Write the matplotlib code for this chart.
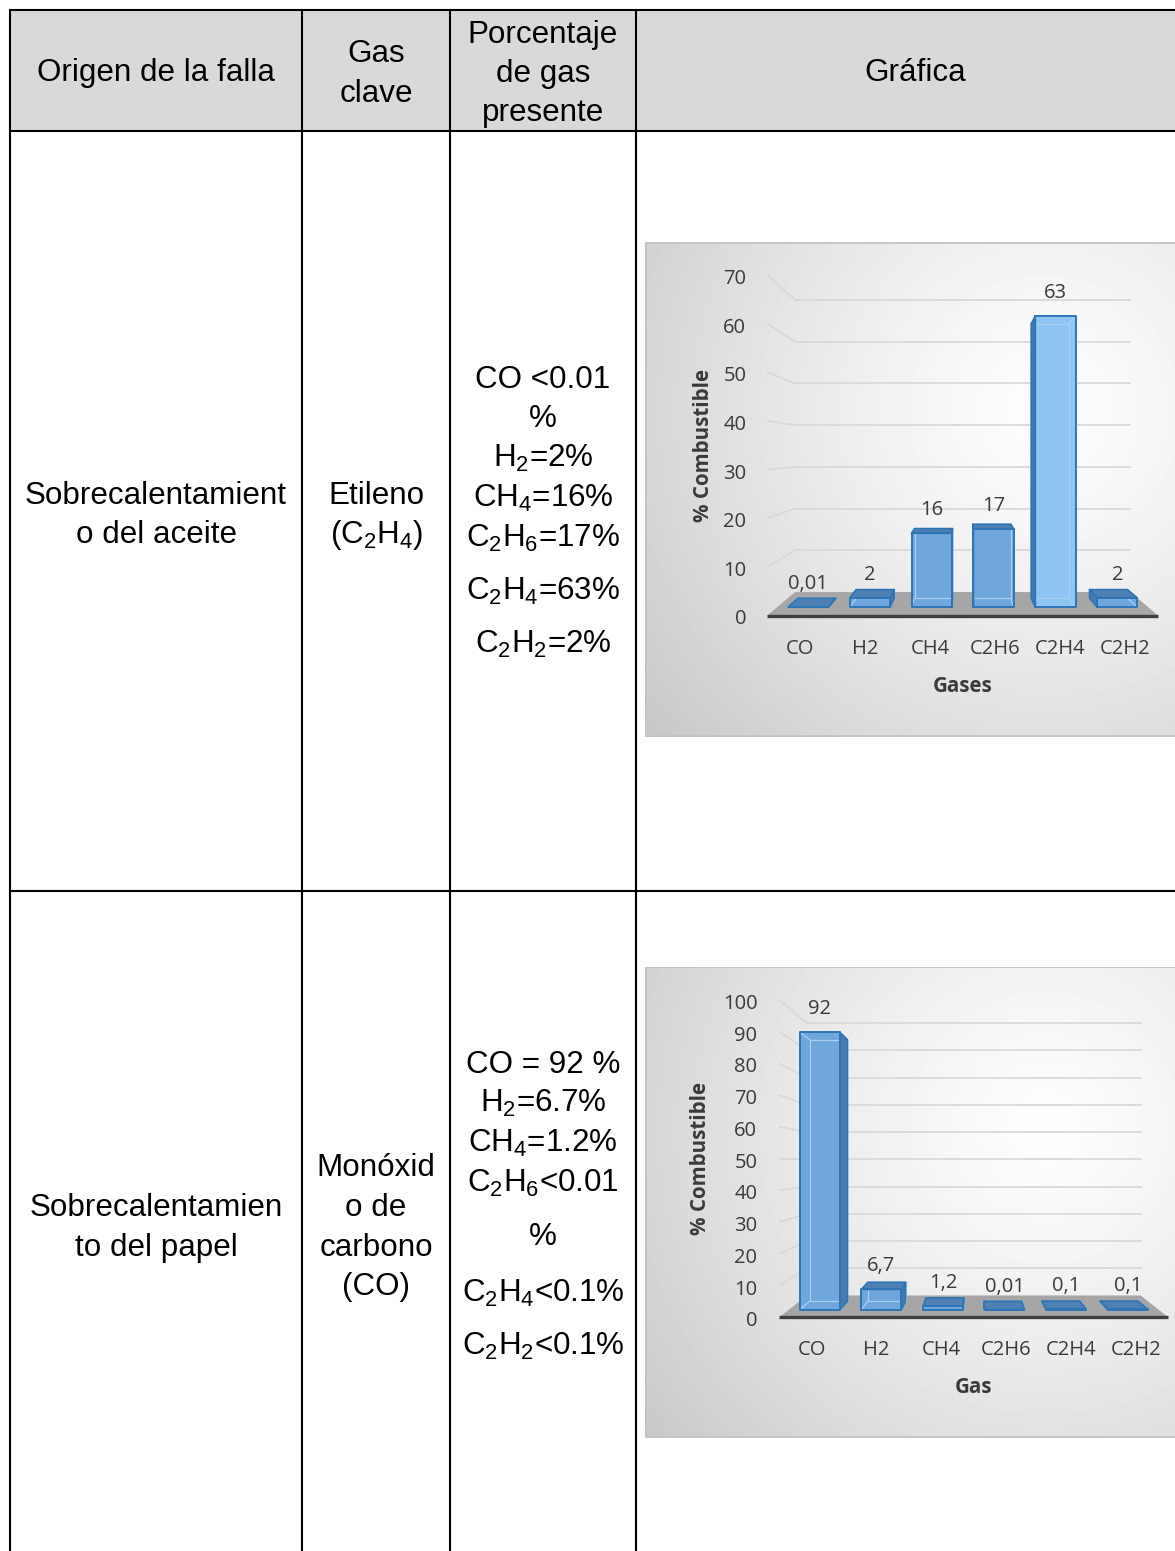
import numpy as np
import matplotlib.pyplot as plt
from matplotlib.patches import Polygon, Rectangle

W, H = 1175, 1551

# ---- data -------------------------------------------------------------
gases = ["CO", "H2", "CH4", "C2H6", "C2H4", "C2H2"]

aceite_pct = [0.01, 2, 16, 17, 63, 2]
aceite_txt = ["0,01", "2", "16", "17", "63", "2"]
aceite_ticks = [0, 10, 20, 30, 40, 50, 60, 70]

papel_pct = [92, 6.7, 1.2, 0.01, 0.1, 0.1]
papel_txt = ["92", "6,7", "1,2", "0,01", "0,1", "0,1"]
papel_ticks = [0, 10, 20, 30, 40, 50, 60, 70, 80, 90, 100]

headers = [["Origen de la falla"], ["Gas", "clave"],
           ["Porcentaje", "de gas", "presente"], ["Gráfica"]]
fila1_origen = ["Sobrecalentamient", "o del aceite"]
fila1_gas = ["Etileno", "(C$_2$H$_4$)"]
fila1_pct = ["CO <0.01", "%", "H$_2$=2%", "CH$_4$=16%", "C$_2$H$_6$=17%",
             "C$_2$H$_4$=63%", "C$_2$H$_2$=2%"]
fila2_origen = ["Sobrecalentamien", "to del papel"]
fila2_gas = ["Monóxid", "o de", "carbono", "(CO)"]
fila2_pct = ["CO = 92 %", "H$_2$=6.7%", "CH$_4$=1.2%", "C$_2$H$_6$<0.01", "%",
             "C$_2$H$_4$<0.1%", "C$_2$H$_2$<0.1%"]

# ---- style ------------------------------------------------------------
plt.rcParams["mathtext.fontset"] = "custom"
plt.rcParams["mathtext.rm"] = "Liberation Sans"
plt.rcParams["mathtext.it"] = "Liberation Sans:italic"
plt.rcParams["mathtext.bf"] = "Liberation Sans:bold"

TABLE_FONT = ["Liberation Sans", "DejaVu Sans"]
CHART_FONT = ["Open Sans", "DejaVu Sans"]
TXT = "#3a3a3a"
FS_TICK = 14.5
FS_TITLE = 14.8
FRONT = "#6fa6dc"
FRONT_HI = "#8ec5f3"
SIDE = "#4a7aab"
TOP = "#4f80b3"
EDGE = "#2e75b6"
HIDDEN = "#a9cff2"
GRID = "#d9d9d9"

F_BACK = 0.142      # depth of the floor / walls
F1, F2 = 0.05, 0.104  # bar depth range
BAR_W = 0.65
VP_FRAC = 0.485


def px_axes(fig, x0, y0, x1, y1, z):
    ax = fig.add_axes([x0 / W, 1 - y1 / H, (x1 - x0) / W, (y1 - y0) / H])
    ax.set_zorder(z)
    return ax


def pts(xs, ys, f, vp):
    xs = np.asarray(xs, float)
    ys = np.asarray(ys, float)
    return np.column_stack([xs + f * (vp[0] - xs), ys + f * (vp[1] - ys)])


def panel(fig, x0, y0, x1, y1):
    ax = px_axes(fig, x0, y0, x1, y1, 2)
    w, h = x1 - x0, y1 - y0
    xx, yy = np.meshgrid(np.arange(w), np.arange(h))
    r = np.hypot(xx - 400, yy - 0.34 * h)
    z = np.clip(0.995 - 0.24 * (r / 560) ** 1.3, 0, 1)
    ax.imshow(z, cmap="gray", vmin=0, vmax=1, extent=(0, w, h, 0),
              aspect="auto", interpolation="bilinear")
    ax.add_patch(Rectangle((0.5, 0.5), w - 1, h - 1.5, fill=False,
                           ec="#c4c4c4", lw=1.3))
    ax.set_xlim(0, w)
    ax.set_ylim(h, 0)
    ax.axis("off")


def chart(fig, box, values, texts, colors, ticks, xtitle, title_dx, tick_dx):
    x0, y_top, x1, y_zero = box
    ax = px_axes(fig, x0, y_top, x1, y_zero, 3)
    n = len(values)
    ymax = ticks[-1]
    ax.set_xlim(0, n)
    ax.set_ylim(0, ymax)
    ax.axis("off")
    vp = (n / 2, VP_FRAC * ymax)

    # floor
    floor = np.vstack([pts([0, n], [0, 0], 0, vp), pts([n, 0], [0, 0], F_BACK, vp)])
    ax.add_patch(Polygon(floor, closed=True, fc="#a6a6a6", ec="none", zorder=1))
    ax.plot([0, n], [0, 0], color="#3f3f3f", lw=2.4, solid_capstyle="butt",
            zorder=2, clip_on=False)

    # wall gridlines and value labels
    for v in ticks:
        if v > 0:
            back = pts([0, n], [v, v], F_BACK, vp)
            ax.plot(back[:, 0], back[:, 1], color=GRID, lw=1.3, zorder=1)
            ax.plot([0, back[0, 0]], [v, back[0, 1]], color=GRID, lw=1.3, zorder=1)
        ax.annotate(str(v), xy=(0, v), xytext=(tick_dx, -9), textcoords="offset pixels",
                    ha="right", va="baseline", fontsize=FS_TICK, color=TXT,
                    family=CHART_FONT)

    # bars
    for i, (v, lab, col) in enumerate(zip(values, texts, colors)):
        xc = i + 0.5
        xa, xb = xc - BAR_W / 2, xc + BAR_W / 2
        fx, fy = [xa, xb, xb, xa], [0, 0, v, v]
        front = pts(fx, fy, F1, vp)
        back = pts(fx, fy, F2, vp)
        ax.add_patch(Polygon(front, closed=True, fc=col, ec="none", zorder=5))
        ax.add_patch(Polygon(back, closed=True, fill=False, ec=HIDDEN, lw=0.9, zorder=6))
        for k in range(4):
            ax.plot([front[k, 0], back[k, 0]], [front[k, 1], back[k, 1]],
                    color=HIDDEN, lw=0.9, zorder=6)
        faces = []
        if xa > vp[0]:
            faces.append(([front[0], front[3], back[3], back[0]], SIDE))
        if xb < vp[0]:
            faces.append(([front[1], front[2], back[2], back[1]], SIDE))
        if v < vp[1]:
            faces.append(([front[3], front[2], back[2], back[3]], TOP))
        for poly, fc in faces:
            ax.add_patch(Polygon(poly, closed=True, fc=fc, ec=EDGE, lw=1.2,
                                 joinstyle="round", zorder=7))
        ax.add_patch(Polygon(front, closed=True, fill=False, ec=EDGE, lw=1.4,
                             joinstyle="round", zorder=8))
        ax.annotate(lab, xy=((front[3, 0] + front[2, 0]) / 2, front[3, 1]),
                    xytext=(0, 18), textcoords="offset pixels", ha="center",
                    va="baseline", fontsize=FS_TICK, color=TXT, family=CHART_FONT)

    for i, g in enumerate(gases):
        ax.annotate(g, xy=(i + 0.5, 0), xytext=(0, -38), textcoords="offset pixels",
                    ha="center", va="baseline", fontsize=FS_TICK, color=TXT,
                    family=CHART_FONT)
    ax.annotate(xtitle, xy=(n / 2, 0), xytext=(0, -76), textcoords="offset pixels",
                ha="center", va="baseline", fontsize=FS_TITLE, fontweight="bold",
                color=TXT, family=CHART_FONT)
    ax.annotate("% Combustible", xy=(0, ymax / 2), xytext=(title_dx, 0),
                textcoords="offset pixels", ha="center", va="center", rotation=90,
                fontsize=FS_TITLE, fontweight="bold", color=TXT,
                family=CHART_FONT)


fig = plt.figure(figsize=(W / 100, H / 100), dpi=100)
fig.patch.set_facecolor("white")

# ---- table ------------------------------------------------------------
tb = px_axes(fig, 0, 0, W, H, 1)
tb.set_xlim(0, W)
tb.set_ylim(H, 0)
tb.axis("off")

tb.add_patch(Rectangle((10, 10), W, 121, fc="#d9d9d9", ec="none"))
for y in [10, 131, 891]:
    tb.plot([10, W + 5], [y, y], color="black", lw=1.5)
for x in [10, 302, 450, 636]:
    tb.plot([x, x], [10, H + 5], color="black", lw=1.5)


def put_lines(x, baselines, lines):
    for yb, s in zip(baselines, lines):
        tb.text(x, yb, s, ha="center", va="baseline", fontsize=22.6,
                family=TABLE_FONT, color="black")


col_x = [156, 376, 543, 915]
put_lines(col_x[0], [81], headers[0])
put_lines(col_x[1], [62, 101.5], headers[1])
put_lines(col_x[2], [43, 82, 121.5], headers[2])
put_lines(col_x[3], [81], headers[3])

put_lines(col_x[0], [504, 543], fila1_origen)
put_lines(col_x[1], [504, 543], fila1_gas)
put_lines(col_x[2], [388, 427, 467, 507, 547, 600, 653], fila1_pct)

put_lines(col_x[0], [1216, 1256], fila2_origen)
put_lines(col_x[1], [1176, 1216, 1256, 1295], fila2_gas)
put_lines(col_x[2], [1073, 1112, 1152, 1192, 1245, 1302, 1355], fila2_pct)

# ---- charts -----------------------------------------------------------
panel(fig, 645, 242, 1190, 737)
panel(fig, 645, 967, 1190, 1438)

aceite_colors = [FRONT] * len(gases)
aceite_colors[4] = FRONT_HI
papel_colors = [FRONT] * len(gases)

chart(fig, (767.3, 275, 1158, 615.5), aceite_pct, aceite_txt, aceite_colors,
      aceite_ticks, "Gases", -64, -21)
chart(fig, (779.3, 1000, 1168.3, 1317.3), papel_pct, papel_txt, papel_colors,
      papel_ticks, "Gas", -79, -22)

fig.savefig("out.png", dpi=100)
